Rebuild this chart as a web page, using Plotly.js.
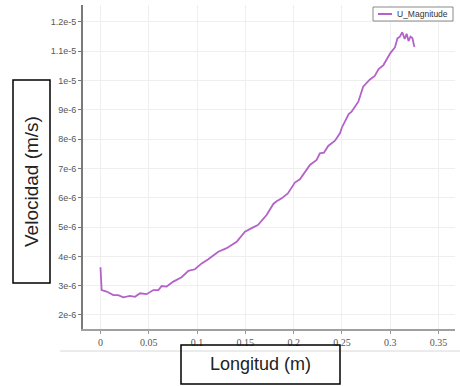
<!DOCTYPE html>
<html>
<head>
<meta charset="utf-8">
<script src="https://cdn.plot.ly/plotly-3.0.1.min.js"></script>
<style>html,body{margin:0;padding:0;background:#fff;}#chart{width:460px;height:386px;}</style>
</head>
<body>
<div id="chart"></div>
<script>
// ---- data ----
const seriesName = "U_Magnitude";
const longitud = [0, 0.0003, 0.0012, 0.0064, 0.0133, 0.0184, 0.0236, 0.0305, 0.0357, 0.041,
  0.0478, 0.0547, 0.06, 0.0634, 0.0685, 0.0754, 0.084, 0.091, 0.0978, 0.1048,
  0.1116, 0.122, 0.1306, 0.141, 0.1496, 0.158, 0.163, 0.172, 0.179, 0.182,
  0.1876, 0.194, 0.2013, 0.2065, 0.2117, 0.2169, 0.2238, 0.2272, 0.2314, 0.2358,
  0.2428, 0.248, 0.25, 0.257, 0.26, 0.267, 0.272, 0.279, 0.284, 0.288,
  0.293, 0.3, 0.305, 0.3075, 0.31, 0.3125, 0.315, 0.317, 0.319, 0.321,
  0.323, 0.325];
const velocidad = [3.63e-6, 3.42e-6, 2.85e-6, 2.80e-6, 2.68e-6, 2.68e-6, 2.60e-6, 2.65e-6, 2.62e-6, 2.74e-6,
  2.71e-6, 2.85e-6, 2.85e-6, 2.99e-6, 2.97e-6, 3.14e-6, 3.29e-6, 3.51e-6, 3.56e-6, 3.76e-6,
  3.90e-6, 4.16e-6, 4.28e-6, 4.50e-6, 4.84e-6, 4.99e-6, 5.07e-6, 5.41e-6, 5.79e-6, 5.87e-6,
  5.98e-6, 6.15e-6, 6.52e-6, 6.63e-6, 6.89e-6, 7.12e-6, 7.29e-6, 7.52e-6, 7.54e-6, 7.77e-6,
  7.95e-6, 8.20e-6, 8.40e-6, 8.86e-6, 8.94e-6, 9.28e-6, 9.79e-6, 10.04e-6, 10.16e-6, 10.39e-6,
  10.53e-6, 10.93e-6, 11.14e-6, 11.44e-6, 11.50e-6, 11.65e-6, 11.42e-6, 11.60e-6, 11.35e-6, 11.50e-6,
  11.45e-6, 11.15e-6];
const xTickVals = [0, 0.05, 0.1, 0.15, 0.2, 0.25, 0.3, 0.35];
const xTickText = ["0", "0.05", "0.1", "0.15", "0.2", "0.25", "0.3", "0.35"];
const yTickVals = [2e-6, 3e-6, 4e-6, 5e-6, 6e-6, 7e-6, 8e-6, 9e-6, 1e-5, 1.1e-5, 1.2e-5];
const yTickText = ["2e-6", "3e-6", "4e-6", "5e-6", "6e-6", "7e-6", "8e-6", "9e-6", "1e-5", "1.1e-5", "1.2e-5"];
const xTitle = "Longitud (m)";
const yTitle = "Velocidad (m/s)";

// ---- layout geometry (pixels) ----
const W = 460, H = 386, L = 83, R = 455, T = 5, B = 329;
const LINE_COLOR = "#b362c9";
function px(x) { return (x - L) / (R - L); }
function py(y) { return (B - y) / (B - T); }

const trace = {
  x: longitud, y: velocidad, type: "scatter", mode: "lines", name: seriesName,
  line: { color: LINE_COLOR, width: 1.8 }, showlegend: false, hoverinfo: "skip"
};

const layout = {
  width: W, height: H, autosize: false,
  margin: { l: L, r: W - R, t: T, b: H - B, pad: 0 },
  paper_bgcolor: "#fff", plot_bgcolor: "#fff",
  showlegend: false,
  xaxis: {
    range: [-0.0181, 0.3671], tickvals: xTickVals, ticktext: xTickText,
    showgrid: true, gridcolor: "#efefef", gridwidth: 1, zeroline: false,
    showline: true, linecolor: "#a0a0a0", linewidth: 2,
    ticks: "outside", ticklen: 3, tickcolor: "#999", tickwidth: 1,
    tickfont: { family: "Liberation Serif", size: 10, color: "#555" }
  },
  yaxis: {
    range: [1.522e-6, 1.258e-5], tickvals: yTickVals, ticktext: yTickText,
    showgrid: true, gridcolor: "#efefef", gridwidth: 1, zeroline: false,
    showline: true, linecolor: "#7a7a7a", linewidth: 2,
    ticks: "outside", ticklen: 3, tickcolor: "#777", tickwidth: 1,
    tickfont: { family: "Liberation Sans", size: 9, color: "#555" }
  },
  shapes: [
    // legend box
    { type: "rect", xref: "paper", yref: "paper", x0: px(373), x1: px(453), y0: py(21), y1: py(7),
      line: { color: "#8a8a8a", width: 1 }, fillcolor: "#fff" },
    { type: "line", xref: "paper", yref: "paper", x0: px(378), x1: px(392), y0: py(14), y1: py(14),
      line: { color: LINE_COLOR, width: 2 } },
    // y title box
    { type: "rect", xref: "paper", yref: "paper", x0: px(13), x1: px(50), y0: py(283), y1: py(80),
      line: { color: "#000", width: 1.5 } },
    // x title box
    { type: "rect", xref: "paper", yref: "paper", x0: px(181), x1: px(340), y0: py(384), y1: py(345),
      line: { color: "#000", width: 1.5 } },
    // faint separator line
    { type: "line", xref: "paper", yref: "paper", x0: px(60), x1: px(460), y0: py(351), y1: py(351),
      line: { color: "#d8d8d8", width: 1 }, layer: "below" }
  ],
  annotations: [
    { xref: "paper", yref: "paper", x: px(395), y: py(14), xanchor: "left", yanchor: "middle",
      text: seriesName, showarrow: false, font: { family: "Liberation Sans", size: 8.5, color: "#333" } },
    { xref: "paper", yref: "paper", x: px(31.5), y: py(181.5), xanchor: "center", yanchor: "middle",
      text: yTitle, textangle: -90, showarrow: false, font: { family: "Liberation Sans", size: 19, color: "#222" } },
    { xref: "paper", yref: "paper", x: px(260.5), y: py(364), xanchor: "center", yanchor: "middle",
      text: xTitle, showarrow: false, font: { family: "Liberation Sans", size: 18, color: "#222" } }
  ]
};

Plotly.newPlot("chart", [trace], layout, { staticPlot: true, displayModeBar: false });
</script>
</body>
</html>
